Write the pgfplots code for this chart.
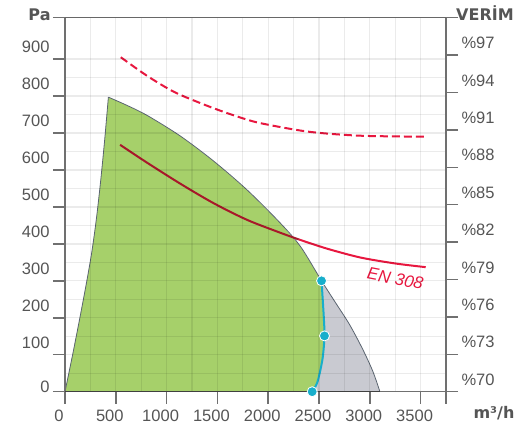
\documentclass[border=0pt]{standalone}
\usepackage{pgfplots}
\pgfplotsset{compat=1.18}
\usepackage{fontspec}
\setmainfont{Liberation Sans}
\newfontfamily\titlefont{DejaVu Sans}
\definecolor{txt}{HTML}{555555}
\definecolor{axc}{HTML}{707070}
\definecolor{fillgreen}{HTML}{A6D06A}
\definecolor{fillgray}{HTML}{C9CAD1}
\definecolor{edge}{HTML}{5A6470}
\definecolor{redA}{HTML}{E8173F}
\definecolor{redD}{HTML}{A8182A}
\definecolor{cyanL}{HTML}{18AECB}
\newcommand{\tfont}{\fontsize{16.5}{18}\selectfont}
\begin{document}
\begin{tikzpicture}
\begin{axis}[
  scale only axis, width=381pt, height=374pt,
  xmin=0, xmax=3750, ymin=0, ymax=1012,
  axis on top,
  xtick={0,500,1000,1500,2000,2500,3000,3500},
  xticklabels={0,500,1000,1500,2000,2500,3000,3500},
  extra x ticks={3750}, extra x tick labels={},
  ytick={0,100,200,300,400,500,600,700,800,900},
  yticklabels={{\raisebox{-7pt}[\height][\depth]{0}},100,200,300,400,500,600,700,800,900},
  extra y ticks={1012}, extra y tick labels={},
  minor x tick num=1, minor y tick num=1,
  grid=both,
  major grid style={draw=black, opacity=0.08, line width=1.3pt},
  minor grid style={draw=black, opacity=0.08, line width=1.3pt},
  minor tick length=0pt,
  major tick length=12pt,
  tick align=outside,
  tick pos=left,
  tick style={draw=axc, line width=1.5pt},
  axis line style={draw=axc, line width=1.5pt},
  xticklabel style={font=\tfont, text=txt, xshift=-6pt, yshift=-3pt},
  yticklabel style={font=\tfont, text=txt, yshift=12pt},
  /pgf/number format/assume math mode=true,
]
% green operating area (fill)
\addplot[fill=fillgreen, draw=none] coordinates {
 (0,0) (75,100) (150,205) (215,300) (265,380) (310,470) (352,573) (390,680) (427,797)
 (600,776) (806,748) (1134,692) (1463,624) (1792,546) (2120,456) (2320,392) (2525,300)
 (2547,203) (2554,151) (2540,100) (2521,68) (2482,24) (2433,0) } --cycle;
% grey area (fill)
\addplot[fill=fillgray, draw=none] coordinates {
 (2525,300) (2660,242) (2800,182) (2930,115) (3030,55) (3100,0) (2433,0)
 (2482,24) (2521,68) (2540,100) (2554,151) (2547,203) } --cycle;
% envelope edges
\addplot[edge, line width=0.8pt, smooth] coordinates {
 (0,0) (75,100) (150,205) (215,300) (265,380) (310,470) (352,573) (390,680) (427,797) };
\addplot[edge, line width=0.8pt, smooth] coordinates {
 (427,797) (600,776) (806,748) (1134,692) (1463,624) (1792,546) (2120,456) (2320,392) (2525,300)
 (2660,242) (2800,182) (2930,115) (3030,55) (3100,0) };
% dashed efficiency curve
\addplot[redA, line width=2pt, dash pattern=on 8pt off 4pt, smooth] coordinates {
 (549,905) (806,855) (1068,812) (1331,781) (1594,754) (1857,731) (2120,716) (2383,704) (2646,697) (2975,692) (3534,690) };
% EN 308 curve
\addplot[redD, line width=2pt, smooth] coordinates {
 (542,668) (806,620) (1134,563) (1463,510) (1792,465) (2120,430) (2301,412) };
\addplot[redA, line width=2pt, smooth] coordinates {
 (2301,412) (2580,387) (2909,363) (3250,347) (3550,337) };
% cyan curve
\addplot[cyanL, line width=2pt, smooth] coordinates {
 (2525,300) (2547,203) (2554,151) (2540,100) (2521,68) (2482,24) (2433,0) };
\addplot[only marks, mark=*, mark size=5pt, mark options={fill=cyanL, draw=white, line width=0.8pt}] coordinates {
 (2525,300) (2554,151) };
\node[rotate=-11, text=redA, font=\itshape\fontsize{17}{18}\selectfont] at (axis cs:3250,306) {EN 308};
\end{axis}
\begin{axis}[
  scale only axis, width=381pt, height=374pt,
  xmin=0, xmax=3750, ymin=70, ymax=100,
  axis x line=none, axis y line*=right,
  ytick={70,73,76,79,82,85,88,91,94,97},
  yticklabels={\%70,\%73,\%76,\%79,\%82,\%85,\%88,\%91,\%94,\%97},
  extra y ticks={100}, extra y tick labels={},
  major tick length=12pt,
  tick align=outside,
  tick style={draw=axc, line width=1.5pt},
  axis line style={draw=axc, line width=1.5pt},
  yticklabel style={font=\tfont, text=txt, yshift=12pt},
  clip=false,
]
\addplot[draw=black!75, line width=1.6pt] coordinates {(0,70) (3100,70)};
\addplot[only marks, mark=*, mark size=5pt, mark options={fill=cyanL, draw=white, line width=0.8pt}] coordinates {(2433,70)};
\end{axis}
\node[font=\titlefont\bfseries\fontsize{16}{18}\selectfont, text=txt] at (-25.5pt,376.7pt) {Pa};
\node[font=\titlefont\bfseries\fontsize{16}{18}\selectfont, text=txt] at (420pt,378.7pt) {VERİM};
\node[font=\titlefont\bfseries\fontsize{16}{18}\selectfont, text=txt] at (429pt,-21.3pt) {m³/h};
\pgfresetboundingbox
\path[use as bounding box] (-65pt,-44.3pt) rectangle (452pt,391.7pt);
\end{tikzpicture}
\end{document}
